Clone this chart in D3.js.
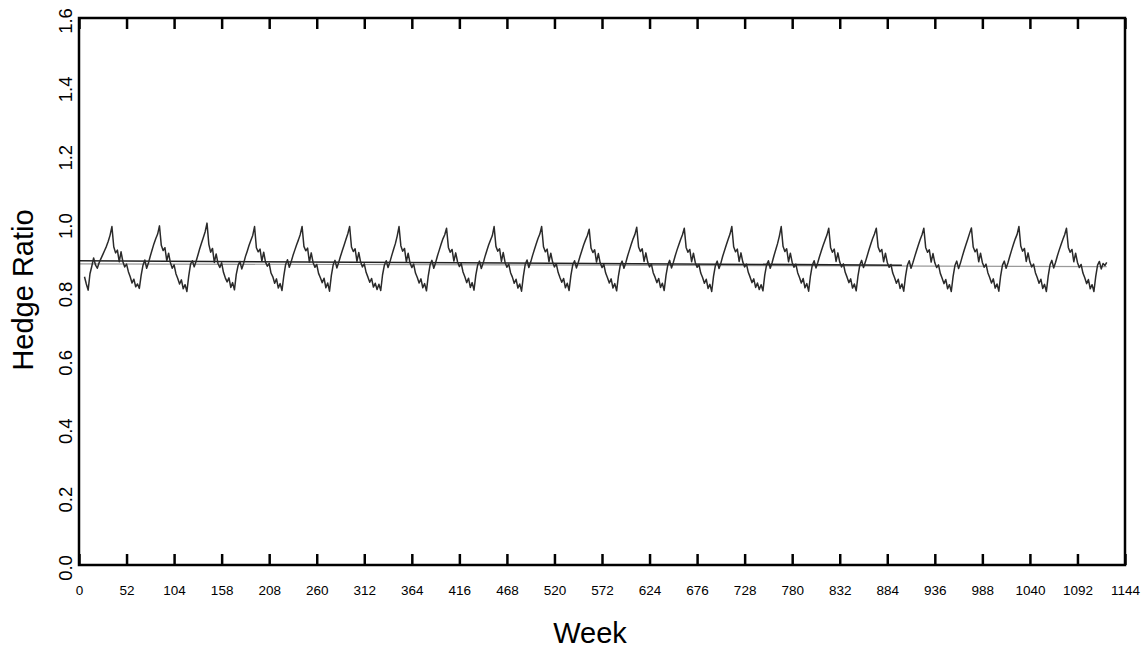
<!DOCTYPE html>
<html>
<head>
<meta charset="utf-8">
<script src="https://cdn.jsdelivr.net/npm/d3@7"></script>
<style>
  body { margin: 0; background: #fff; }
  text { font-family: "Liberation Sans", Arial, Helvetica, sans-serif; fill: #000; }
</style>
</head>
<body>
<div id="chart"></div>
<script>
// DATA
// weekly hedge ratio, sampled every 2 weeks starting at week 6
const firstWeek = 6;
const stepWeeks = 2;

// weeks 6..34, before the first annual peak
const hedgeLeadIn = [0.843, 0.822, 0.804, 0.852, 0.874, 0.898, 0.878, 0.868, 0.884, 0.896, 0.908, 0.920, 0.932, 0.947, 0.965];

// one list per year, each one starting at that year's peak
const hedgeCycles = [
  [0.990, 0.931, 0.913, 0.921, 0.887, 0.916, 0.887, 0.872, 0.880, 0.858, 0.843, 0.825, 0.836, 0.814, 0.822, 0.809, 0.848, 0.877, 0.892, 0.868, 0.884, 0.904, 0.922, 0.940, 0.955, 0.968],
  [0.992, 0.935, 0.920, 0.928, 0.890, 0.912, 0.884, 0.868, 0.878, 0.852, 0.838, 0.822, 0.834, 0.808, 0.820, 0.800, 0.845, 0.880, 0.890, 0.872, 0.888, 0.906, 0.925, 0.942, 0.958, 0.975],
  [1.000, 0.938, 0.915, 0.926, 0.885, 0.910, 0.882, 0.870, 0.884, 0.856, 0.840, 0.828, 0.840, 0.812, 0.826, 0.805, 0.850, 0.876, 0.888, 0.866, 0.882, 0.902, 0.918, 0.935, 0.950, 0.964],
  [0.990, 0.928, 0.916, 0.924, 0.889, 0.915, 0.886, 0.874, 0.882, 0.854, 0.843, 0.824, 0.837, 0.810, 0.823, 0.803, 0.846, 0.879, 0.893, 0.871, 0.887, 0.905, 0.921, 0.937, 0.951, 0.967],
  [0.990, 0.932, 0.919, 0.927, 0.886, 0.913, 0.885, 0.871, 0.879, 0.853, 0.840, 0.826, 0.839, 0.811, 0.825, 0.801, 0.847, 0.878, 0.891, 0.869, 0.885, 0.903, 0.920, 0.936, 0.953, 0.969],
  [0.990, 0.930, 0.917, 0.925, 0.888, 0.914, 0.886, 0.872, 0.881, 0.856, 0.842, 0.827, 0.838, 0.813, 0.824, 0.806, 0.821, 0.803, 0.849, 0.877, 0.890, 0.870, 0.886, 0.905, 0.923, 0.940, 0.962],
  [0.990, 0.934, 0.918, 0.926, 0.887, 0.912, 0.884, 0.870, 0.880, 0.854, 0.841, 0.825, 0.837, 0.811, 0.823, 0.802, 0.846, 0.878, 0.891, 0.868, 0.884, 0.904, 0.921, 0.938, 0.954, 0.966],
  [0.985, 0.929, 0.915, 0.923, 0.889, 0.913, 0.887, 0.873, 0.882, 0.857, 0.843, 0.826, 0.839, 0.812, 0.826, 0.804, 0.848, 0.877, 0.889, 0.867, 0.883, 0.902, 0.919, 0.936, 0.950, 0.963],
  [0.990, 0.932, 0.918, 0.925, 0.888, 0.914, 0.885, 0.871, 0.880, 0.855, 0.842, 0.824, 0.836, 0.810, 0.822, 0.801, 0.845, 0.879, 0.892, 0.870, 0.886, 0.905, 0.922, 0.939, 0.955, 0.968],
  [0.990, 0.931, 0.916, 0.924, 0.887, 0.912, 0.886, 0.872, 0.881, 0.856, 0.841, 0.827, 0.838, 0.811, 0.824, 0.803, 0.847, 0.878, 0.890, 0.869, 0.885, 0.903, 0.920, 0.937, 0.951, 0.964],
  [0.982, 0.927, 0.914, 0.922, 0.886, 0.911, 0.884, 0.870, 0.879, 0.854, 0.840, 0.825, 0.837, 0.810, 0.823, 0.802, 0.846, 0.877, 0.889, 0.868, 0.884, 0.904, 0.921, 0.938, 0.954, 0.967],
  [0.988, 0.930, 0.917, 0.925, 0.888, 0.913, 0.886, 0.872, 0.880, 0.855, 0.842, 0.826, 0.838, 0.812, 0.824, 0.803, 0.847, 0.878, 0.891, 0.869, 0.885, 0.904, 0.921, 0.937, 0.952, 0.966],
  [0.985, 0.929, 0.915, 0.923, 0.887, 0.912, 0.885, 0.871, 0.879, 0.854, 0.841, 0.824, 0.836, 0.809, 0.821, 0.800, 0.845, 0.876, 0.889, 0.867, 0.883, 0.903, 0.920, 0.937, 0.953, 0.968],
  [0.990, 0.931, 0.916, 0.924, 0.888, 0.913, 0.886, 0.872, 0.880, 0.856, 0.842, 0.826, 0.837, 0.812, 0.825, 0.806, 0.820, 0.802, 0.848, 0.878, 0.890, 0.868, 0.884, 0.904, 0.922, 0.940, 0.962],
  [0.990, 0.932, 0.917, 0.925, 0.887, 0.912, 0.885, 0.871, 0.880, 0.855, 0.841, 0.825, 0.838, 0.811, 0.823, 0.801, 0.846, 0.877, 0.890, 0.869, 0.885, 0.903, 0.920, 0.936, 0.951, 0.965],
  [0.985, 0.929, 0.915, 0.924, 0.888, 0.913, 0.886, 0.872, 0.881, 0.856, 0.842, 0.826, 0.837, 0.810, 0.822, 0.802, 0.846, 0.878, 0.891, 0.870, 0.886, 0.904, 0.922, 0.939, 0.955, 0.968],
  [0.985, 0.930, 0.916, 0.923, 0.887, 0.912, 0.885, 0.871, 0.879, 0.854, 0.840, 0.824, 0.836, 0.809, 0.822, 0.801, 0.845, 0.877, 0.890, 0.868, 0.884, 0.902, 0.919, 0.936, 0.952, 0.966],
  [0.985, 0.929, 0.915, 0.922, 0.886, 0.911, 0.884, 0.870, 0.878, 0.853, 0.839, 0.823, 0.835, 0.808, 0.820, 0.800, 0.844, 0.876, 0.889, 0.867, 0.883, 0.902, 0.920, 0.937, 0.953, 0.970],
  [0.986, 0.930, 0.916, 0.924, 0.887, 0.912, 0.885, 0.871, 0.880, 0.855, 0.841, 0.825, 0.837, 0.810, 0.822, 0.801, 0.846, 0.877, 0.889, 0.868, 0.884, 0.903, 0.921, 0.938, 0.954, 0.967],
  [0.990, 0.933, 0.918, 0.926, 0.888, 0.913, 0.886, 0.872, 0.880, 0.855, 0.841, 0.824, 0.836, 0.809, 0.821, 0.800, 0.845, 0.878, 0.891, 0.869, 0.885, 0.904, 0.921, 0.937, 0.952, 0.966],
  [0.985, 0.929, 0.915, 0.923, 0.887, 0.912, 0.885, 0.870, 0.879, 0.854, 0.840, 0.823, 0.835, 0.808, 0.820, 0.800, 0.844, 0.877, 0.888, 0.866, 0.882, 0.876, 0.885]
];

// fitted trend (dark) and long-run level (grey)
const trendWeeks = [0, 900];
const trendValues = [0.890, 0.877];
const levelWeeks = [0, 1124];
const levelValues = [0.881, 0.873];

// axis ticks (the original prints "158" at 156)
const xTicks = [0, 52, 104, 156, 208, 260, 312, 364, 416, 468, 520, 572, 624, 676, 728, 780, 832, 884, 936, 988, 1040, 1092, 1144];
const xTickLabels = ["0", "52", "104", "158", "208", "260", "312", "364", "416", "468", "520", "572", "624", "676", "728", "780", "832", "884", "936", "988", "1040", "1092", "1144"];
const yTicks = [0, 0.2, 0.4, 0.6, 0.8, 1.0, 1.2, 1.4, 1.6];

// SET GLOBAL VARIABLES
const W = 1147, H = 649;
const margin = { top: 18, right: 22, bottom: 84, left: 79 };

const svg = d3.select("#chart")
    .append("svg")
    .attr("width", W)
    .attr("height", H);

const x = d3.scaleLinear().domain([0, 1144]).range([margin.left, W - margin.right]);
const y = d3.scaleLinear().domain([0, 1.6]).range([H - margin.bottom, margin.top]);

// build the weekly points from the lists
const series = hedgeLeadIn.concat(...hedgeCycles)
    .map((v, i) => ({ week: firstWeek + i * stepWeeks, value: v }));

// lines
const line = d3.line().x(d => x(d.week)).y(d => y(d.value));

svg.append("path")
    .datum(levelWeeks.map((w, i) => ({ week: w, value: levelValues[i] })))
    .attr("fill", "none")
    .attr("stroke", "#9a9a9a")
    .attr("stroke-width", 1.2)
    .attr("d", line);

svg.append("path")
    .datum(trendWeeks.map((w, i) => ({ week: w, value: trendValues[i] })))
    .attr("fill", "none")
    .attr("stroke", "#222")
    .attr("stroke-width", 1.6)
    .attr("d", line);

svg.append("path")
    .datum(series)
    .attr("fill", "none")
    .attr("stroke", "#2a2a2a")
    .attr("stroke-width", 1.5)
    .attr("stroke-linejoin", "round")
    .attr("d", line);

// X axis (ticks point inward)
const xAxis = svg.append("g")
    .attr("transform", `translate(0,${y(0)})`)
    .call(d3.axisBottom(x).tickValues(xTicks).tickSize(-11).tickPadding(20)
        .tickFormat((d, i) => xTickLabels[i]));
xAxis.select(".domain").remove();
xAxis.selectAll("line").attr("stroke", "#000").attr("stroke-width", 2.5);
xAxis.selectAll("text").style("font-size", "13.5px").attr("font-family", null);

const xTop = svg.append("g")
    .attr("transform", `translate(0,${y(1.6)})`)
    .call(d3.axisTop(x).tickValues(xTicks).tickSize(-11).tickFormat(""));
xTop.select(".domain").remove();
xTop.selectAll("line").attr("stroke", "#000").attr("stroke-width", 2.5);

// Y labels (rotated)
svg.append("g")
    .selectAll("text")
    .data(yTicks)
    .join("text")
    .attr("transform", d => `translate(72,${y(d) + 3}) rotate(-90)`)
    .attr("text-anchor", "middle")
    .style("font-size", "18.5px")
    .text(d => d.toFixed(1));

// frame
svg.append("rect")
    .attr("x", x(0))
    .attr("y", y(1.6))
    .attr("width", x(1144) - x(0))
    .attr("height", y(0) - y(1.6))
    .attr("fill", "none")
    .attr("stroke", "#000")
    .attr("stroke-width", 2.5);

// Axis titles
svg.append("text")
    .attr("transform", `translate(33,290) rotate(-90)`)
    .attr("text-anchor", "middle")
    .style("font-size", "29px")
    .text("Hedge Ratio");

svg.append("text")
    .attr("x", 590)
    .attr("y", 643)
    .attr("text-anchor", "middle")
    .style("font-size", "29px")
    .text("Week");
</script>
</body>
</html>
